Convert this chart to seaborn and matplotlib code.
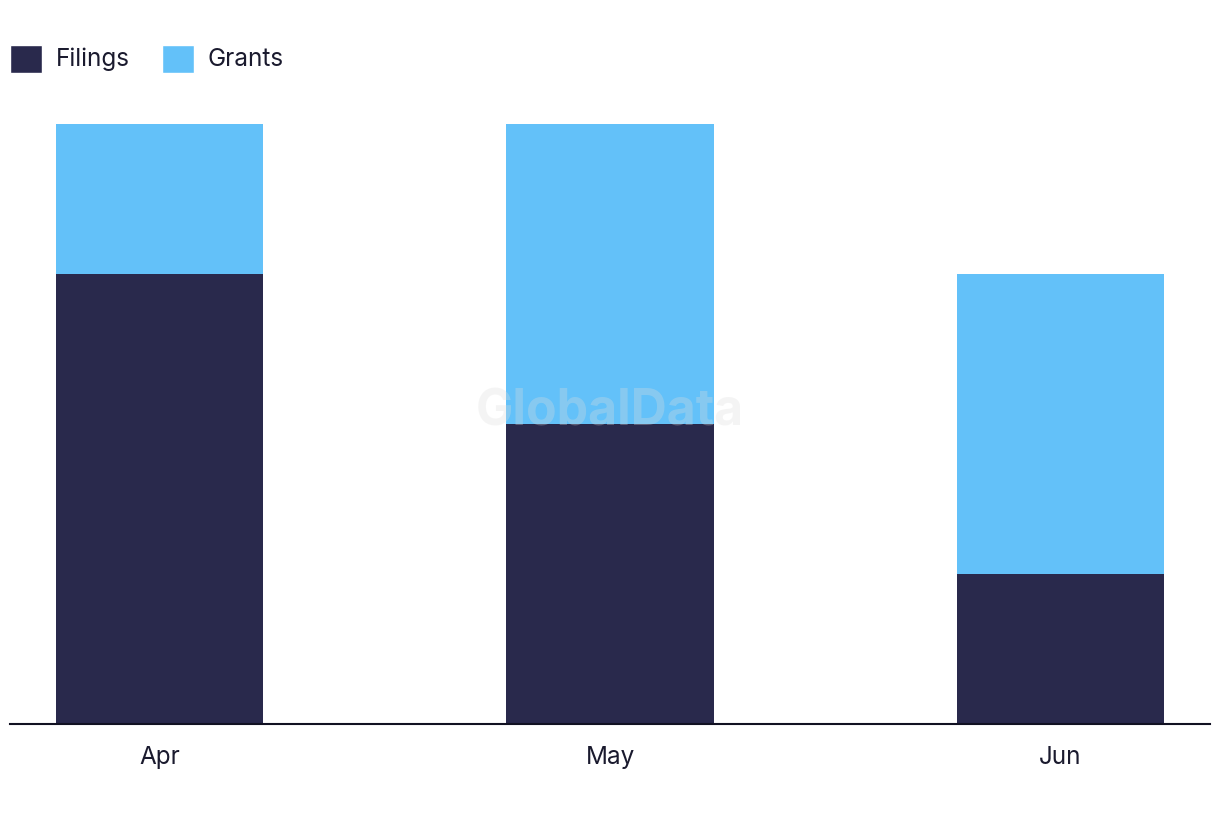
import matplotlib
matplotlib.use("Agg")
import matplotlib.pyplot as plt
import seaborn as sns
import pandas as pd
from matplotlib.patches import Patch

months = ["Apr", "May", "Jun"]
filings = [3, 2, 1]
grants = [1, 2, 2]

DARK = "#29294c"
LIGHT = "#63c1f9"

sns.set_style("white")
plt.rcParams["font.family"] = ["Inter", "DejaVu Sans"]

df = pd.DataFrame({"month": months, "filings": filings, "grants": grants})
df["total"] = df["filings"] + df["grants"]

fig = plt.figure(figsize=(12.2, 8.22), dpi=100)
ax = fig.add_axes([10 / 1220, 98 / 822, 1200 / 1220, 600 / 822])

sns.barplot(data=df, x="month", y="total", color=LIGHT, width=0.46,
            saturation=1, ax=ax, linewidth=0)
sns.barplot(data=df, x="month", y="filings", color=DARK, width=0.46,
            saturation=1, ax=ax, linewidth=0)

ax.set_xlim(-0.333, 2.333)
ax.set_ylim(0, 4)
ax.set_xlabel("")
ax.set_ylabel("")
ax.set_yticks([])
for s in ["top", "right", "left"]:
    ax.spines[s].set_visible(False)
ax.spines["bottom"].set_color("#111122")
ax.spines["bottom"].set_linewidth(1.5)
ax.tick_params(axis="x", length=0, pad=16, labelsize=17.5, labelcolor="#1a1a2e")

ax.text(0.5, 0.52, "GlobalData", transform=ax.transAxes, ha="center", va="center",
        fontsize=36, fontweight="bold", color="#dddddd", alpha=0.3, zorder=10)

handles = [Patch(facecolor=DARK, label="Filings"), Patch(facecolor=LIGHT, label="Grants")]
fig.legend(handles=handles, loc="upper left", bbox_to_anchor=(10 / 1220, 1 - 45 / 822),
           ncol=2, frameon=False, fontsize=17.5, handlelength=1.2, handleheight=1.2,
           handletextpad=0.7, columnspacing=1.3, labelcolor="#1a1a2e",
           borderpad=0, borderaxespad=0)
for p in fig.legends[0].get_patches():
    p.set_height(p.get_height() * 1.15)
    p.set_width(p.get_width() * 1.1)
    p.set_y(p.get_y() - 0.12 * p.get_height())

fig.savefig("out.png", dpi=100, facecolor="white")
